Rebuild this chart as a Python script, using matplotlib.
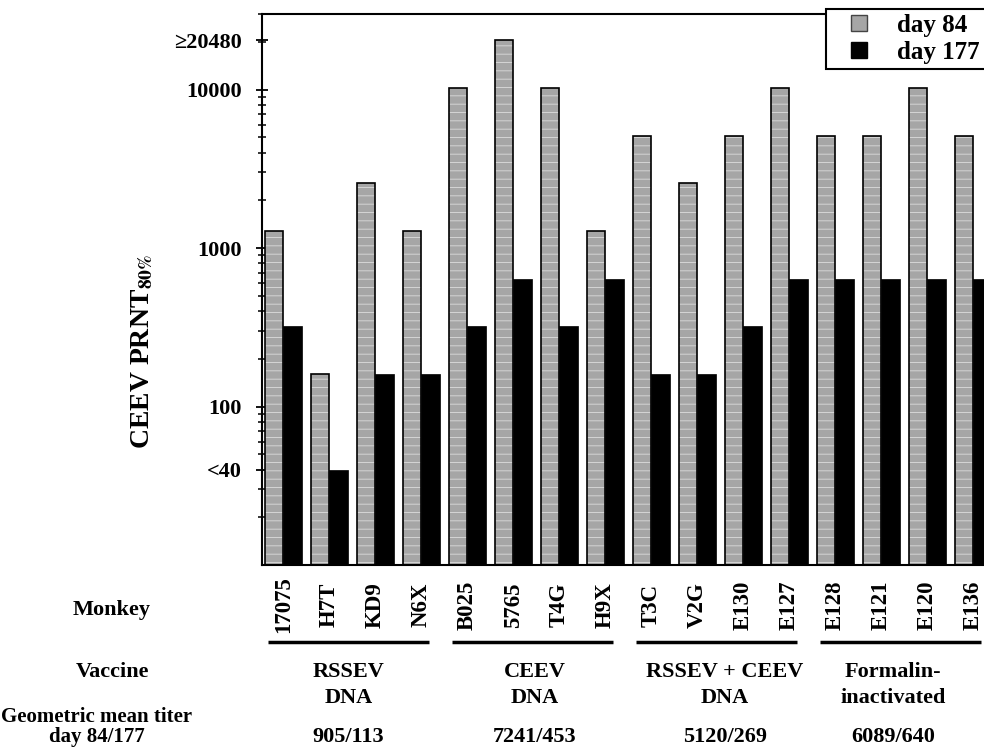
import matplotlib
matplotlib.use('Agg')
import matplotlib.pyplot as plt
from matplotlib.lines import Line2D
from matplotlib.ticker import LogLocator, NullFormatter, FixedLocator
from matplotlib.transforms import blended_transform_factory

# monkeys and PRNT80 titers
monkeys = ['17075', 'H7T', 'KD9', 'N6X', 'B025', '5765', 'T4G', 'H9X',
           'T3C', 'V2G', 'E130', 'E127', 'E128', 'E121', 'E120', 'E136']
day84 = [1280, 160, 2560, 1280, 10240, 20480, 10240, 1280,
         5120, 2560, 5120, 10240, 5120, 5120, 10240, 5120]
day177 = [320, 40, 160, 160, 320, 640, 320, 640,
          160, 160, 320, 640, 640, 640, 640, 640]

groups = ['RSSEV\nDNA', 'CEEV\nDNA', 'RSSEV + CEEV\nDNA', 'Formalin-\ninactivated']
gmt = ['905/113', '7241/453', '5120/269', '6089/640']

ytick_vals = [40, 100, 1000, 10000, 20480]
ytick_labels = ['<40', '100', '1000', '10000', '\u226520480']

plt.rcParams['font.family'] = ['Liberation Serif', 'DejaVu Serif']
plt.rcParams['font.weight'] = 'bold'
plt.rcParams['mathtext.fontset'] = 'stix'
plt.rcParams['hatch.linewidth'] = 0.6

W, H = 984, 748
fig = plt.figure(figsize=(W / 100, H / 100), dpi=100)
ax = fig.add_axes([262 / W, 1 - 565 / H, 1 - 262 / W, (565 - 14) / H])

w = 0.4
x = list(range(len(monkeys)))
xg = [i - w / 2 for i in x]
xb = [i + w / 2 for i in x]

ax.bar(xg, day84, width=w, color='#a6a6a6', edgecolor='none', zorder=2)
ax.bar(xg, day84, width=w, color='none', edgecolor='#dcdcdc', hatch='--',
       linewidth=0, zorder=2.1)
ax.bar(xg, day84, width=w, color='none', edgecolor='black', linewidth=1.2, zorder=2.2)
ax.bar(xb, day177, width=w, color='black', edgecolor='black', linewidth=0.5, zorder=2)

ax.set_yscale('log')
ax.set_ylim(10, 30000)
ax.set_xlim(-0.463, 15.23)

ax.yaxis.set_major_locator(FixedLocator(ytick_vals))
ax.set_yticklabels(ytick_labels, fontsize=16, fontweight='bold')
ax.yaxis.set_minor_locator(LogLocator(base=10, subs=range(2, 10), numticks=20))
ax.yaxis.set_minor_formatter(NullFormatter())
ax.tick_params(axis='y', which='major', direction='inout', length=9, width=1.3, pad=10)
ax.tick_params(axis='y', which='minor', direction='inout', length=6, width=1.1)
ax.set_xticks([])

for s in ['left', 'top', 'bottom']:
    ax.spines[s].set_linewidth(1.5)
ax.spines['right'].set_visible(False)

ax.set_ylabel(r'CEEV PRNT$_{\mathbf{80\%}}$', fontsize=20, fontweight='bold')
ax.yaxis.set_label_coords(155 / W, 1 - 352 / H, transform=fig.transFigure)

# legend, partly cut off at the right like the original
handles = [Line2D([], [], ls='none', marker='s', markersize=11, markerfacecolor='#a6a6a6',
                  markeredgecolor='#444444'),
           Line2D([], [], ls='none', marker='s', markersize=11, markerfacecolor='black',
                  markeredgecolor='black')]
leg = fig.legend(handles, ['day 84', 'day 177 '], loc='upper left',
                 bbox_to_anchor=(826 / W, 1 - 9 / H), bbox_transform=fig.transFigure,
                 fancybox=False, framealpha=1, edgecolor='black', borderaxespad=0,
                 borderpad=0.2, handlelength=2.2, handletextpad=0.44, labelspacing=0.15,
                 prop={'size': 18, 'weight': 'bold'})
leg.get_frame().set_linewidth(1.5)

# monkey ids, group underlines and group text below the axis
tr = blended_transform_factory(ax.transData, fig.transFigure)
for i, m in enumerate(monkeys):
    ax.text(i, 1 - 605 / H, m, transform=tr, rotation=90, ha='center', va='center',
            fontsize=16.5, fontweight='bold', clip_on=False)

group_centers = [1.42, 5.47, 9.6, 13.25]
for g in range(4):
    ax.plot([g * 4 - 0.33, g * 4 + 3.17], [1 - 642 / H] * 2, transform=tr, color='black',
            lw=2.5, clip_on=False, solid_capstyle='butt')
    ax.text(group_centers[g], 1 - 685 / H, groups[g], transform=tr, ha='center', va='center',
            fontsize=16, fontweight='bold', linespacing=1.35, clip_on=False)
    ax.text(group_centers[g], 1 - 737 / H, gmt[g], transform=tr, ha='center', va='center',
            fontsize=16, fontweight='bold', clip_on=False)

fig.text(112 / W, 1 - 610 / H, 'Monkey', ha='center', va='center', fontsize=16, fontweight='bold')
fig.text(112 / W, 1 - 672 / H, 'Vaccine', ha='center', va='center', fontsize=16, fontweight='bold')
fig.text(97 / W, 1 - 717 / H, 'Geometric mean titer', ha='center', va='center', fontsize=15,
         fontweight='bold')
fig.text(97 / W, 1 - 737 / H, 'day 84/177', ha='center', va='center', fontsize=15, fontweight='bold')

fig.savefig('out.png', dpi=100)
